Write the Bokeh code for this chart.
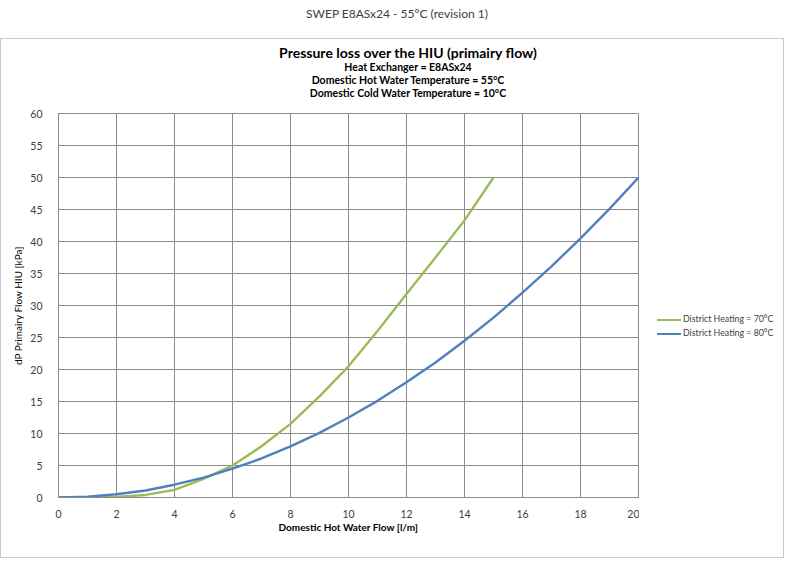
from bokeh.plotting import figure
from bokeh.models import Div, FixedTicker
from bokeh.layouts import column, row
from bokeh.embed import file_html
from bokeh.resources import INLINE

FONT = "Lato"

# Data
flow_70 = [0, 1, 2, 3, 4, 5, 6, 7, 8, 9, 10, 11, 12, 13, 14, 15]
dp_70 = [0, 0.01, 0.1, 0.4, 1.2, 2.9, 5.0, 8.0, 11.5, 15.8, 20.5, 26.0, 31.8, 37.5, 43.3, 50.0]

flow_80 = [0, 1, 2, 3, 4, 5, 6, 7, 8, 9, 10, 11, 12, 13, 14, 15, 16, 17, 18, 19, 20]
dp_80 = [0, 0.13, 0.5, 1.1, 2.0, 3.1, 4.5, 6.1, 8.0, 10.1, 12.5, 15.1, 18.0,
         21.1, 24.5, 28.1, 32.0, 36.1, 40.5, 45.1, 50.0]

series_names = ["District Heating = 70°C", "District Heating = 80°C"]
series_colors = ["#9BBB59", "#4F81BD"]

x_ticks = [0, 2, 4, 6, 8, 10, 12, 14, 16, 18, 20]
y_ticks = [0, 5, 10, 15, 20, 25, 30, 35, 40, 45, 50, 55, 60]

title_lines = ["Pressure loss over the HIU (primairy flow)",
               "Heat Exchanger = E8ASx24",
               "Domestic Hot Water Temperature = 55°C",
               "Domestic Cold Water Temperature = 10°C"]

page_title = Div(text="SWEP E8ASx24 - 55°C (revision 1)", width=784, height=28,
                 styles={"text-align": "center", "width": "784px",
                         "font-family": FONT, "font-size": "12px", "color": "#404040"})

# chart title block inside the bordered box
html = ('<div style="width:772px;box-sizing:border-box;padding-top:1px;padding-left:32px;'
        'text-align:center;font-weight:bold;color:black;font-family:%s">' % FONT)
html += '<div style="font-size:14px;line-height:15px;margin-bottom:1px">%s</div>' % title_lines[0]
for line in title_lines[1:]:
    html += '<div style="font-size:10.5px;line-height:13px">%s</div>' % line
html += '</div>'
chart_title = Div(text=html, width=772, height=58, styles={"width": "772px"})

p = figure(width=638, height=440, x_range=(0, 20), y_range=(0, 60),
           output_backend="svg", toolbar_location=None,
           min_border_left=57, min_border_right=1, min_border_top=6, min_border_bottom=50,
           x_axis_label="Domestic Hot Water Flow [l/m]",
           y_axis_label="dP Primairy Flow HIU [kPa]")

p.line(flow_70, dp_70, line_color=series_colors[0], line_width=2.4)
p.line(flow_80, dp_80, line_color=series_colors[1], line_width=2.4)

# legend beside the plot
leg = '<div style="padding-top:200px;font-family:%s;font-size:8.8px;color:#404040">' % FONT
for name, col in zip(series_names, series_colors):
    leg += ('<div style="line-height:14px;white-space:nowrap">'
            '<span style="display:inline-block;width:24px;height:2.5px;background:%s;'
            'vertical-align:middle;margin-left:13px;margin-right:2px"></span>%s</div>' % (col, name))
leg += '</div>'
legend_div = Div(text=leg, width=134, height=440, styles={"width": "134px"})

p.xaxis.ticker = FixedTicker(ticks=x_ticks)
p.yaxis.ticker = FixedTicker(ticks=y_ticks)
p.xgrid.ticker = FixedTicker(ticks=x_ticks)
p.ygrid.ticker = FixedTicker(ticks=y_ticks)
p.grid.grid_line_color = "#8c8c8c"
p.grid.grid_line_alpha = 1.0
p.outline_line_color = "#8c8c8c"

for ax in (p.xaxis, p.yaxis):
    ax.axis_line_color = "#8c8c8c"
    ax.major_tick_line_color = None
    ax.minor_tick_line_color = None
    ax.major_label_text_font = FONT
    ax.major_label_text_font_size = "10.5px"
    ax.major_label_text_color = "#404040"
    ax.axis_label_text_font = FONT
    ax.axis_label_text_color = "black"

p.xaxis.axis_label_text_font_size = "10px"
p.xaxis.axis_label_text_font_style = "bold"
p.xaxis.axis_label_standoff = 0
p.xaxis.major_label_standoff = 6
p.yaxis.axis_label_text_font_size = "10px"
p.yaxis.axis_label_text_font_style = "normal"
p.yaxis.axis_label_standoff = 3
p.yaxis.major_label_standoff = 10

box = column(chart_title, row(p, legend_div, spacing=0), spacing=0,
             styles={"border": "1px solid #c8c8c8"})
layout = column(page_title, box, spacing=0)

open("out.html", "w").write(file_html(layout, INLINE))
